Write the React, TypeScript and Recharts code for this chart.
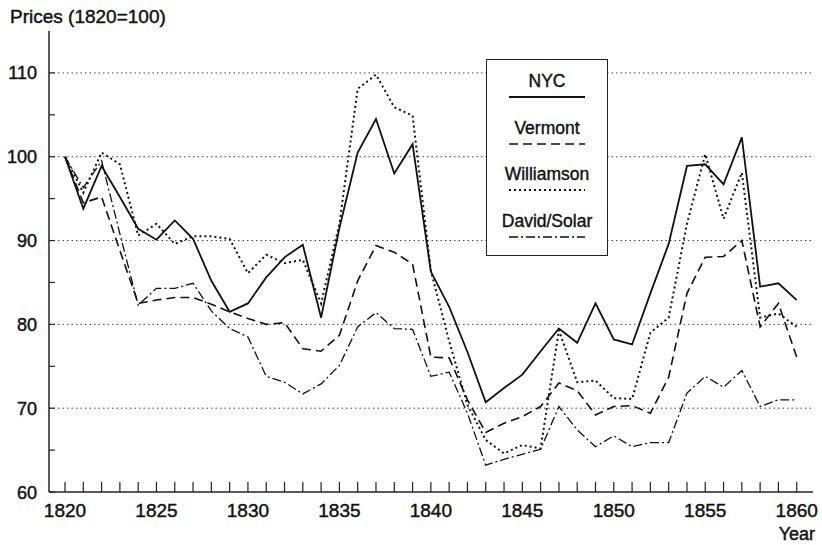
import React from 'react';
import { LineChart, Line, XAxis, YAxis, CartesianGrid, Legend } from 'recharts';

// price indexes, 1820 = 100
const years = [
  1820, 1821, 1822, 1823, 1824, 1825, 1826, 1827, 1828, 1829,
  1830, 1831, 1832, 1833, 1834, 1835, 1836, 1837, 1838, 1839,
  1840, 1841, 1842, 1843, 1844, 1845, 1846, 1847, 1848, 1849,
  1850, 1851, 1852, 1853, 1854, 1855, 1856, 1857, 1858, 1859, 1860,
];
const nyc = [
  100, 93.8, 98.9, 95.2, 91.4, 90.1, 92.4, 90.2, 85.2, 81.5,
  82.5, 85.6, 88.0, 89.5, 80.8, 91.5, 100.5, 104.5, 98.0, 101.5,
  86.3, 82.1, 76.7, 70.7, 72.4, 74.0, 76.8, 79.5, 77.8, 82.5,
  78.2, 77.6, 83.7, 89.6, 98.9, 99.1, 96.7, 102.3, 84.5, 84.9, 82.9,
];
const vermont = [
  100, 94.5, 95.2, 88.8, 82.5, 82.9, 83.2, 83.2, 82.4, 81.5,
  80.7, 80.0, 80.2, 77.1, 76.8, 78.7, 85.2, 89.4, 88.6, 87.2,
  76.1, 76.0, 71.0, 67.1, 68.2, 69.0, 70.2, 73.0, 72.1, 69.2,
  70.2, 70.3, 69.4, 73.7, 83.7, 88.0, 88.1, 90.0, 79.7, 82.5, 76.1,
];
const williamson = [
  100, 95.7, 100.5, 99.1, 90.6, 92.0, 89.6, 90.5, 90.5, 90.2,
  86.1, 88.3, 87.3, 87.7, 82.5, 92.0, 108.1, 109.8, 105.9, 104.9,
  86.4, 78.0, 70.4, 66.2, 64.6, 65.6, 65.2, 79.3, 73.1, 73.3,
  71.2, 71.1, 79.0, 80.8, 92.0, 100.3, 92.6, 98.1, 80.8, 81.3, 79.7,
];
const davidSolar = [
  100, 96.3, 99.5, 90.8, 82.3, 84.3, 84.3, 84.9, 81.6, 79.5,
  78.5, 73.8, 73.1, 71.7, 72.9, 75.1, 79.7, 81.4, 79.5, 79.4,
  73.8, 74.3, 69.4, 63.2, 63.9, 64.5, 65.1, 70.2, 67.4, 65.4,
  66.7, 65.4, 65.9, 65.9, 71.8, 73.8, 72.5, 74.5, 70.2, 71.0, 71.0,
];

const yTicks = [60, 65, 70, 75, 80, 85, 90, 95, 100, 105, 110];
const gridValues = [70, 80, 90, 100, 110];

const seriesList = [
  { key: 'nyc', name: 'NYC', values: nyc, dash: undefined as string | undefined, width: 1.8 },
  { key: 'vermont', name: 'Vermont', values: vermont, dash: '9 5', width: 1.6 },
  { key: 'williamson', name: 'Williamson', values: williamson, dash: '2 3', width: 2 },
  { key: 'davidSolar', name: 'David/Solar', values: davidSolar, dash: '9 3 2 3', width: 1.3 },
];

const data = years.map((year, i) => {
  const row: any = { year };
  seriesList.forEach(s => { row[s.key] = s.values[i]; });
  return row;
});

const FONT = '"Liberation Sans", Arial, sans-serif';
const INK = '#111';
// the scanned original prints its type a bit heavier
const heavy = { stroke: INK, strokeWidth: 0.45 };

const XTick = (props: any) => {
  const { x, y, payload } = props;
  const yr = payload.value;
  return (
    <g>
      <line x1={x} y1={y} x2={x} y2={y - 10} stroke="#222" strokeWidth={1.2} />
      {yr % 5 === 0 && (
        <text x={x} y={y + 25} textAnchor="middle" fontSize={19} fontFamily={FONT} fill={INK} {...heavy}>{yr}</text>
      )}
    </g>
  );
};

const YTick = (props: any) => {
  const { x, y, payload } = props;
  const v = payload.value;
  return (
    <g>
      <line x1={x} y1={y} x2={x + 6} y2={y} stroke="#222" strokeWidth={1.2} />
      {v % 10 === 0 && (
        <text x={x - 12} y={y + 6.5} textAnchor="end" fontSize={18} fontFamily={FONT} fill={INK} {...heavy}>{v}</text>
      )}
    </g>
  );
};

const LegendBox = () => (
  <div style={{
    width: 122, height: 197, boxSizing: 'border-box', border: '1.5px solid #222',
    background: '#fff', paddingTop: 11, fontFamily: FONT, color: INK, overflow: 'hidden',
    WebkitTextStroke: '0.4px #111',
  }}>
    {seriesList.map(s => (
      <div key={s.key} style={{ height: 46.5, textAlign: 'center' }}>
        <div style={{ fontSize: 17.5, lineHeight: '20px' }}>{s.name}</div>
        <svg width={76} height={8} style={{ display: 'block', margin: '2px auto 0' }}>
          <line x1={0} y1={4} x2={76} y2={4} stroke={INK} strokeWidth={s.width} strokeDasharray={s.dash} />
        </svg>
      </div>
    ))}
  </div>
);

const App: React.FC = () => {
  return (
    <div style={{ position: 'absolute', left: 0, top: 0, background: '#fff' }}>
      <LineChart width={822} height={545} data={data} margin={{ top: 31, right: 9, left: 0, bottom: 0 }}>
        <CartesianGrid vertical={false} horizontalValues={gridValues} stroke="#444" strokeDasharray="1.5 3" />
        <XAxis
          dataKey="year" type="number" domain={[1819.125, 1860.89]} allowDataOverflow
          ticks={years} interval={0} tick={<XTick />} tickLine={false} tickSize={0} tickMargin={0}
          height={53} axisLine={{ stroke: '#222', strokeWidth: 1.5 }}
          label={{
            content: (p: any) => {
              const vb = p.viewBox;
              return (
                <text x={vb.x + vb.width + 2} y={vb.y + 48} textAnchor="end" fontSize={18} fontFamily={FONT} fill={INK} {...heavy}>Year</text>
              );
            },
          }}
        />
        <YAxis
          type="number" domain={[60, 115]} allowDataOverflow ticks={yTicks} interval={0}
          tick={<YTick />} tickLine={false} tickSize={0} tickMargin={0} width={49}
          axisLine={{ stroke: '#222', strokeWidth: 1.5 }}
          label={{
            content: () => (
              <text x={10} y={23} fontSize={19} fontFamily={FONT} fill={INK} {...heavy}>Prices (1820=100)</text>
            ),
          }}
        />
        <XAxis xAxisId="top" orientation="top" type="number" domain={[0, 1]} height={0}
          tick={false} tickLine={false} axisLine={{ stroke: '#222', strokeWidth: 1.5 }} />
        <YAxis yAxisId="right" orientation="right" type="number" domain={[0, 1]} width={0}
          tick={false} tickLine={false} axisLine={{ stroke: '#222', strokeWidth: 1.5 }} />
        <Legend
          layout="horizontal" verticalAlign="middle" align="center"
          content={() => <LegendBox />}
          wrapperStyle={{ left: 486, top: 59, width: 122, height: 197 }}
        />
        {seriesList.map(s => (
          <Line
            key={s.key} type="linear" dataKey={s.key} name={s.name}
            stroke={INK} strokeWidth={s.width} strokeDasharray={s.dash}
            dot={false} activeDot={false} isAnimationActive={false}
          />
        ))}
      </LineChart>
    </div>
  );
};

export default App;
